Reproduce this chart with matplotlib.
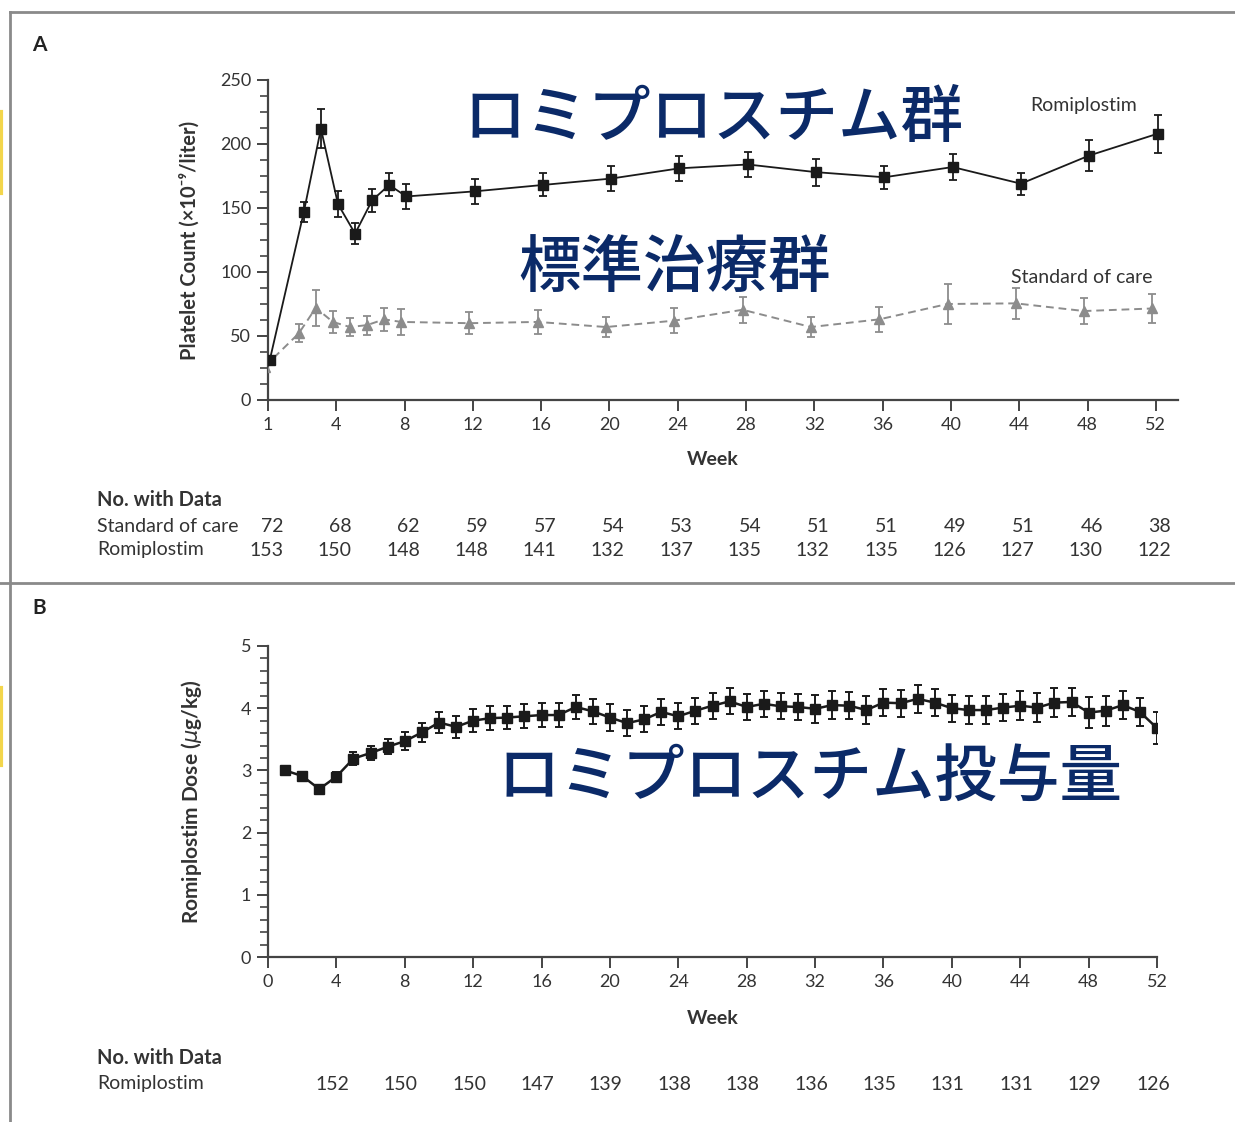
import numpy as np
import matplotlib
matplotlib.use("Agg")
import matplotlib.pyplot as plt
from matplotlib.ticker import AutoMinorLocator
from matplotlib.transforms import blended_transform_factory

plt.rcParams['font.family'] = ['Lato', 'DejaVu Sans']
plt.rcParams['mathtext.fontset'] = 'dejavusans'

# ---- panel A: platelet count ----
# week 1 is drawn on the axis origin in the original figure
weeks_a = [0, 2, 3, 4, 5, 6, 7, 8, 12, 16, 20, 24, 28, 32, 36, 40, 44, 48, 52]
romi_a = [31, 147, 212, 153, 130, 156, 168, 159, 163, 168, 173, 181, 184, 178, 174, 182, 169, 191, 208]
romi_a_err = [3, 8, 15.5, 10, 8, 9, 9, 9.5, 9.5, 9, 10, 10, 10, 10.5, 9, 10, 8.5, 12, 15]
soc_a = [26, 52, 72, 61, 57, 58.5, 63, 61, 60, 61, 57, 62, 70.5, 57, 63, 75, 75.5, 69.5, 71.5]
soc_a_err = [3, 7, 14, 8.5, 7, 7.5, 9, 10, 8.5, 9.5, 7.5, 10, 10, 7.5, 10, 16, 12, 10, 11]

ticks_a = [0, 4, 8, 12, 16, 20, 24, 28, 32, 36, 40, 44, 48, 52]
tick_labels_a = ['1', '4', '8', '12', '16', '20', '24', '28', '32', '36', '40', '44', '48', '52']
n_soc = [72, 68, 62, 59, 57, 54, 53, 54, 51, 51, 49, 51, 46, 38]
n_romi = [153, 150, 148, 148, 141, 132, 137, 135, 132, 135, 126, 127, 130, 122]

# ---- panel B: romiplostim dose ----
weeks_b = list(range(1, 53))
dose_b = [3.00, 2.91, 2.70, 2.90, 3.19, 3.28, 3.38, 3.47, 3.61, 3.77, 3.70, 3.80, 3.84,
          3.85, 3.87, 3.89, 3.89, 4.02, 3.95, 3.85, 3.76, 3.82, 3.94, 3.87, 3.96, 4.04,
          4.11, 4.02, 4.07, 4.03, 4.02, 3.99, 4.05, 4.04, 3.97, 4.09, 4.08, 4.15, 4.09,
          4.00, 3.97, 3.97, 4.01, 4.04, 4.01, 4.09, 4.10, 3.93, 3.96, 4.05, 3.94, 3.68]
dose_b_err = [0.02, 0.03, 0.06, 0.08, 0.10, 0.11, 0.12, 0.14, 0.16, 0.17, 0.18, 0.18, 0.19,
              0.19, 0.19, 0.20, 0.20, 0.20, 0.20, 0.21, 0.21, 0.21, 0.21, 0.21, 0.21, 0.21,
              0.21, 0.21, 0.21, 0.21, 0.21, 0.22, 0.22, 0.22, 0.22, 0.22, 0.22, 0.22, 0.22,
              0.22, 0.22, 0.22, 0.22, 0.23, 0.23, 0.23, 0.23, 0.25, 0.24, 0.23, 0.22, 0.26]
ticks_b = list(range(0, 53, 4))
n_romi_b_weeks = [4, 8, 12, 16, 20, 24, 28, 32, 36, 40, 44, 48, 52]
n_romi_b = [152, 150, 150, 147, 139, 138, 138, 136, 135, 131, 131, 129, 126]

TXT = '#333333'
NAVY = '#0b2a68'
JP = ['Noto Sans CJK JP', 'DejaVu Sans']
W, H = 1235, 1122

fig = plt.figure(figsize=(W / 100, H / 100), dpi=100)


def fx(px):
    return px / W


def fy(py):
    return 1 - py / H


def style_axis(ax):
    for s in ['top', 'right']:
        ax.spines[s].set_visible(False)
    for s in ['left', 'bottom']:
        ax.spines[s].set_color('#444444')
        ax.spines[s].set_linewidth(1.6)
    ax.tick_params(axis='both', which='major', direction='out', length=8, width=1.4,
                   colors='#444444', labelcolor=TXT, labelsize=13, pad=4)
    ax.tick_params(axis='y', which='minor', direction='out', length=6, width=1.2, colors='#444444')


# panel A
axA = fig.add_axes([fx(268), fy(400), fx(1178 - 268), (400 - 80) / H])
axA.errorbar(np.array(weeks_a) - 0.2, soc_a, yerr=soc_a_err, color='#8c8c8c', ls=(0, (4, 2.5)),
             lw=1.4, marker='^', ms=6.5, capsize=3, elinewidth=1.3, capthick=1.3, zorder=3)
axA.errorbar(np.array(weeks_a) + 0.1, romi_a, yerr=romi_a_err, color='#1a1a1a', lw=1.3,
             marker='s', ms=6.5, capsize=3, elinewidth=1.3, capthick=1.3, zorder=4)
axA.set_xlim(0, 53.3)
axA.set_ylim(0, 250)
axA.set_xticks(ticks_a)
axA.set_xticklabels(tick_labels_a)
axA.set_yticks([0, 50, 100, 150, 200, 250])
axA.yaxis.set_minor_locator(AutoMinorLocator(4))
style_axis(axA)
axA.set_xlabel('Week', fontsize=14, fontweight='bold', color=TXT)
axA.xaxis.set_label_coords((713 - 268) / 910, -(460 - 400) / 320)
axA.xaxis.label.set_va('center')
axA.set_ylabel('Platelet Count (×10⁻⁹/liter)', fontsize=14.5, fontweight='bold', color=TXT)
axA.yaxis.set_label_coords((190 - 268) / 910, 0.5)
axA.yaxis.label.set_va('center')
axA.text(50.9, 230, 'Romiplostim', fontsize=14, color=TXT, ha='right', va='center')
axA.text(51.8, 95.5, 'Standard of care', fontsize=14, color=TXT, ha='right', va='center')

# panel B
axB = fig.add_axes([fx(268), fy(957), fx(1157 - 268), (957 - 646) / H])
axB.errorbar(weeks_b, dose_b, yerr=dose_b_err, color='#1a1a1a', lw=1.8, marker='s', ms=7,
             capsize=3, elinewidth=1.4, capthick=1.4, zorder=4)
axB.set_xlim(0, 52)
axB.set_ylim(0, 5)
axB.set_xticks(ticks_b)
axB.yaxis.set_minor_locator(AutoMinorLocator(5))
style_axis(axB)
axB.set_xlabel('Week', fontsize=14, fontweight='bold', color=TXT)
axB.xaxis.set_label_coords((713 - 268) / 889, -(1018 - 957) / 311)
axB.xaxis.label.set_va('center')
axB.set_ylabel(r'Romiplostim Dose ($\mu$g/kg)', fontsize=15, fontweight='bold', color=TXT)
axB.yaxis.set_label_coords((192 - 268) / 889, 0.5)
axB.yaxis.label.set_va('center')

# Japanese overlay labels
fig.text(fx(714), fy(120), 'ロミプロスチム群', family=JP, fontsize=45, fontweight='medium',
         color=NAVY, ha='center', va='center')
fig.text(fx(675), fy(270), '標準治療群', family=JP, fontsize=45, fontweight='medium',
         color=NAVY, ha='center', va='center')
fig.text(fx(810), fy(778), 'ロミプロスチム投与量', family=JP, fontsize=45, fontweight='medium',
         color=NAVY, ha='center', va='center')

# panel letters
fig.text(fx(32), fy(45), 'A', fontsize=15, fontweight='bold', color='#222222', va='center')
fig.text(fx(32), fy(608), 'B', fontsize=15, fontweight='bold', color='#222222', va='center')

# number-at-risk tables
trA = blended_transform_factory(axA.transData, fig.transFigure)
fig.text(fx(97), fy(500), 'No. with Data', fontsize=14.5, fontweight='bold', color=TXT, va='center')
fig.text(fx(97), fy(526), 'Standard of care', fontsize=14, color=TXT, va='center')
fig.text(fx(97), fy(550), 'Romiplostim', fontsize=14, color=TXT, va='center')
for t, a, b in zip(ticks_a, n_soc, n_romi):
    axA.text(t + 0.9, fy(526), str(a), transform=trA, fontsize=14, color=TXT, ha='right', va='center')
    axA.text(t + 0.9, fy(550), str(b), transform=trA, fontsize=14, color=TXT, ha='right', va='center')

trB = blended_transform_factory(axB.transData, fig.transFigure)
fig.text(fx(97), fy(1058), 'No. with Data', fontsize=14.5, fontweight='bold', color=TXT, va='center')
fig.text(fx(97), fy(1083), 'Romiplostim', fontsize=14, color=TXT, va='center')
for t, b in zip(n_romi_b_weeks, n_romi_b):
    axB.text(t + 0.75, fy(1084), str(b), transform=trB, fontsize=14, color=TXT, ha='right', va='center')

# frame lines
frame = fig.add_axes([0, 0, 1, 1], zorder=-1)
frame.set_xlim(0, W)
frame.set_ylim(H, 0)
frame.axis('off')
frame.plot([10, 10], [12, H], color='#8a8a8a', lw=2)
frame.plot([10, W], [12, 12], color='#8a8a8a', lw=2)
frame.plot([0, W], [583, 583], color='#8a8a8a', lw=2)
frame.plot([1, 1], [112, 193], color='#f3d64c', lw=3)
frame.plot([1, 1], [688, 765], color='#f3d64c', lw=3)

fig.savefig('out.png', dpi=100, facecolor='white')
